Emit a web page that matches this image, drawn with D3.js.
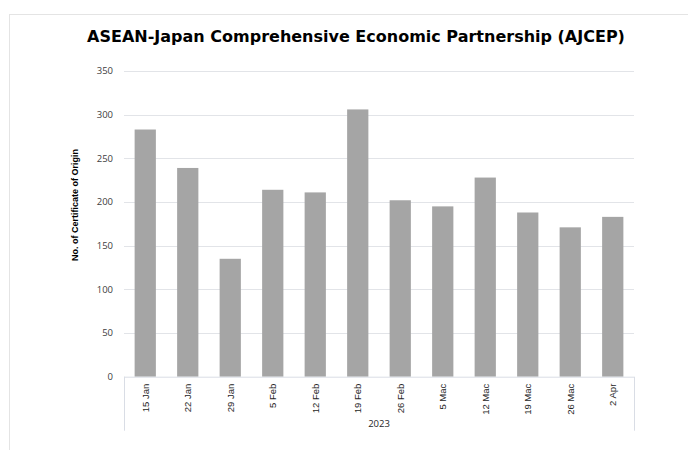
<!DOCTYPE html>
<html>
<head>
<meta charset="utf-8">
<script src="https://cdn.jsdelivr.net/npm/d3@7"></script>
<style>
  body { margin: 0; background: #fff; }
  svg { display: block; }
</style>
</head>
<body>
<div id="chart"></div>
<script>
// weekly counts
var weeks = ["15 Jan", "22 Jan", "29 Jan", "5 Feb", "12 Feb", "19 Feb", "26 Feb", "5 Mac", "12 Mac", "19 Mac", "26 Mac", "2 Apr"];
var counts = [283, 239, 135, 214, 211, 306, 202, 195, 228, 188, 171, 183];
var yTicks = [0, 50, 100, 150, 200, 250, 300, 350];
var yearLabel = "2023";
var chartTitle = "ASEAN-Japan Comprehensive Economic Partnership (AJCEP)";
var yTitle = "No. of Certificate of Origin";

var W = 688, H = 450;
var margin = { top: 71, left: 124, right: 54, bottom: 73.3 };
var plotW = W - margin.left - margin.right,
    plotH = H - margin.top - margin.bottom;

var svg = d3.select("#chart").append("svg")
    .attr("width", W)
    .attr("height", H);

// chart frame (runs off the right / bottom of the window)
svg.append("rect")
    .attr("x", 9.5).attr("y", 14.5)
    .attr("width", W + 20).attr("height", H + 20)
    .attr("fill", "none")
    .attr("stroke", "#e4e4e4");

svg.append("text")
    .attr("x", 356).attr("y", 42)
    .attr("text-anchor", "middle")
    .style("font-family", "'DejaVu Sans', sans-serif")
    .style("font-weight", "bold")
    .style("font-size", "16px")
    .attr("fill", "#000")
    .text(chartTitle);

var g = svg.append("g")
    .attr("transform", "translate(" + margin.left + "," + margin.top + ")");

var x = d3.scaleBand().domain(weeks).range([0, plotW]).paddingInner(0.5).paddingOuter(0.25);
var y = d3.scaleLinear().domain([0, 350]).range([plotH, 0]);

// gridlines
g.selectAll(".grid")
  .data(yTicks.slice(1))
  .enter().append("line")
    .attr("x1", 0).attr("x2", plotW)
    .attr("y1", function(d) { return Math.round(y(d)) + 0.5; })
    .attr("y2", function(d) { return Math.round(y(d)) + 0.5; })
    .attr("stroke", "#e2e4e8");

// y tick labels
g.selectAll(".ylab")
  .data(yTicks)
  .enter().append("text")
    .attr("x", -11)
    .attr("y", function(d) { return y(d); })
    .attr("dy", "0.35em")
    .attr("text-anchor", "end")
    .style("font-family", "'Open Sans', sans-serif")
    .style("font-size", "9.5px")
    .attr("fill", "#404040")
    .text(function(d) { return d; });

// bars
g.selectAll(".bar")
  .data(counts)
  .enter().append("rect")
    .attr("x", function(d, i) { return x(weeks[i]); })
    .attr("y", function(d) { return y(d); })
    .attr("width", x.bandwidth())
    .attr("height", function(d) { return plotH - y(d); })
    .attr("fill", "#a5a5a5");

// category axis line + outer group lines
g.append("line")
    .attr("x1", 0).attr("x2", plotW)
    .attr("y1", plotH + 0.5).attr("y2", plotH + 0.5)
    .attr("stroke", "#d9dde5");
g.selectAll(".grp")
  .data([0, plotW])
  .enter().append("line")
    .attr("x1", function(d) { return d + 0.5; })
    .attr("x2", function(d) { return d + 0.5; })
    .attr("y1", plotH).attr("y2", plotH + 54)
    .attr("stroke", "#d9dde5");

// rotated week labels
g.selectAll(".xlab")
  .data(weeks)
  .enter().append("text")
    .attr("transform", function(d) {
        return "translate(" + (x(d) + x.bandwidth() / 2) + "," + (plotH + 7) + ") rotate(-90)";
    })
    .attr("dy", "0.35em")
    .attr("text-anchor", "end")
    .style("font-family", "'Liberation Sans Narrow', 'Arial Narrow', sans-serif")
    .style("font-size", "9.5px")
    .attr("fill", "#262626")
    .text(function(d) { return d; });

g.append("text")
    .attr("x", plotW / 2)
    .attr("y", plotH + 47)
    .attr("dy", "0.35em")
    .attr("text-anchor", "middle")
    .style("font-family", "'Open Sans', sans-serif")
    .style("font-size", "9.5px")
    .attr("fill", "#262626")
    .text(yearLabel);

svg.append("text")
    .attr("transform", "translate(75,205) rotate(-90)")
    .attr("dy", "0.35em")
    .attr("text-anchor", "middle")
    .style("font-family", "'Liberation Sans Narrow', 'Arial Narrow', sans-serif")
    .style("font-weight", "bold")
    .style("font-size", "9px")
    .attr("fill", "#000")
    .text(yTitle);
</script>
</body>
</html>
